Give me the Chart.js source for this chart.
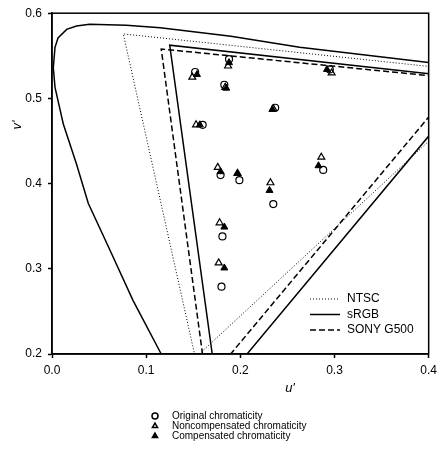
<!DOCTYPE html>
<html>
<head>
<meta charset="utf-8">
<script src="https://cdn.jsdelivr.net/npm/chart.js@4"></script>
<style>
  html, body { margin: 0; padding: 0; background: #fff; }
</style>
</head>
<body>
<canvas id="chromaChart" width="442" height="455"></canvas>
<script>
// spectral locus (u', v')
const locusU = [0.126, 0.116, 0.086, 0.0615, 0.0385, 0.026, 0.012, 0.0032, 0.0014, 0.0032, 0.0064, 0.0156, 0.026, 0.040, 0.079, 0.115, 0.19, 0.263, 0.40, 0.50];
const locusV = [0.180, 0.200, 0.263, 0.322, 0.377, 0.423, 0.470, 0.513, 0.536, 0.560, 0.571, 0.581, 0.585, 0.587, 0.586, 0.583, 0.573, 0.560, 0.542, 0.528];

// gamut triangles R, G, B, R
const ntscU = [0.4769, 0.0757, 0.1522, 0.4769];
const ntscV = [0.5285, 0.5757, 0.1957, 0.5285];
const srgbU = [0.4507, 0.1250, 0.1754, 0.4507];
const srgbV = [0.5229, 0.5625, 0.1579, 0.5229];
const sonyU = [0.434, 0.116, 0.164, 0.434];
const sonyV = [0.523, 0.558, 0.166, 0.523];

// measured chromaticities
const origU = [0.188, 0.152, 0.183, 0.237, 0.160, 0.295, 0.179, 0.199, 0.288, 0.235, 0.181, 0.180];
const origV = [0.546, 0.531, 0.516, 0.489, 0.469, 0.534, 0.410, 0.404, 0.416, 0.376, 0.338, 0.279];
const noncompU = [0.187, 0.149, 0.184, 0.235, 0.153, 0.297, 0.176, 0.197, 0.286, 0.232, 0.178, 0.177];
const noncompV = [0.538, 0.525, 0.513, 0.488, 0.469, 0.530, 0.419, 0.412, 0.431, 0.401, 0.354, 0.307];
const compU = [0.188, 0.154, 0.185, 0.234, 0.157, 0.292, 0.179, 0.197, 0.283, 0.231, 0.183, 0.183];
const compV = [0.542, 0.528, 0.512, 0.487, 0.469, 0.534, 0.414, 0.412, 0.421, 0.392, 0.349, 0.301];

const xTicks = [0.0, 0.1, 0.2, 0.3, 0.4];
const yTicks = [0.2, 0.3, 0.4, 0.5, 0.6];

const FONT = '"Liberation Sans", Arial, sans-serif';

function pts(us, vs) {
  return us.map((u, i) => ({ x: u, y: vs[i] }));
}

function lineSet(label, us, vs, dash, width, inLegend) {
  return {
    label: label, data: pts(us, vs), showLine: true, fill: false,
    borderColor: "#000", borderWidth: width, borderDash: dash,
    pointRadius: 0, pointHoverRadius: 0, order: 5, inLegend: inLegend
  };
}

const markerSets = [
  { label: "Original chromaticity", data: pts(origU, origV), pointStyle: "circle",
    pointRadius: 3.5, borderColor: "#000", backgroundColor: "rgba(255,255,255,0)", borderWidth: 1.2, order: 2 },
  { label: "Noncompensated chromaticity", data: pts(noncompU, noncompV), pointStyle: "triangle",
    pointRadius: 4, borderColor: "#000", backgroundColor: "rgba(255,255,255,0)", borderWidth: 1.2, order: 1 },
  { label: "Compensated chromaticity", data: pts(compU, compV), pointStyle: "triangle",
    pointRadius: 4, borderColor: "#000", backgroundColor: "#000", borderWidth: 1, order: 0 }
];

const lineSets = [
  lineSet("locus", locusU, locusV, [], 1.5, false),
  lineSet("NTSC", ntscU, ntscV, [1, 2], 1, true),
  lineSet("sRGB", srgbU, srgbV, [], 1.5, true),
  lineSet("SONY G500", sonyU, sonyV, [6, 3], 1.5, true)
];

const overlay = {
  id: "overlay",
  afterDraw(chart) {
    const ctx = chart.ctx, a = chart.chartArea;
    ctx.save();
    ctx.strokeStyle = "#000";
    ctx.lineWidth = 1.5;
    ctx.strokeRect(a.left, a.top, a.right - a.left, a.bottom - a.top);

    // axis titles
    ctx.fillStyle = "#000";
    ctx.font = "italic 13px " + FONT;
    ctx.textAlign = "center";
    ctx.textBaseline = "middle";
    ctx.fillText("u'", 290, 388);
    ctx.save();
    ctx.translate(17, 125);
    ctx.rotate(-Math.PI / 2);
    ctx.fillText("v'", 0, 0);
    ctx.restore();

    // legend for gamut lines, inside the plot
    ctx.textAlign = "left";
    ctx.font = "12px " + FONT;
    let y = 299;
    lineSets.filter(d => d.inLegend).forEach(d => {
      ctx.beginPath();
      ctx.setLineDash(d.borderDash);
      ctx.lineWidth = d.borderWidth;
      ctx.moveTo(310, y);
      ctx.lineTo(340, y);
      ctx.stroke();
      ctx.setLineDash([]);
      ctx.fillText(d.label, 347, y);
      y += 15.5;
    });

    // legend for markers, under the plot
    ctx.font = "10px " + FONT;
    y = 416;
    markerSets.forEach(d => {
      ctx.fillStyle = d.backgroundColor;
      ctx.strokeStyle = d.borderColor;
      Chart.helpers.drawPoint(ctx, { pointStyle: d.pointStyle, radius: 3, borderWidth: d.borderWidth, rotation: 0 }, 155, y);
      ctx.fillStyle = "#000";
      ctx.fillText(d.label, 172, y);
      y += 10;
    });
    ctx.restore();
  }
};

function tickFmt(v) { return Number(v).toFixed(1); }

new Chart(document.getElementById("chromaChart"), {
  type: "scatter",
  data: { datasets: markerSets.concat(lineSets) },
  options: {
    responsive: false,
    animation: false,
    layout: { padding: { left: 0, right: 12, top: 12, bottom: 61 } },
    plugins: { legend: { display: false }, tooltip: { enabled: false } },
    scales: {
      x: {
        type: "linear", min: 0, max: 0.4,
        afterFit: s => { s.height = 40; },
        afterBuildTicks: s => { s.ticks = xTicks.map(v => ({ value: v })); },
        grid: { drawOnChartArea: false, tickLength: 4, tickColor: "#000", tickWidth: 1.5 },
        border: { display: true, color: "#000", width: 1.5 },
        ticks: { color: "#000", font: { family: FONT, size: 12 }, padding: 5, maxRotation: 0, callback: tickFmt }
      },
      y: {
        type: "linear", min: 0.2, max: 0.6,
        afterFit: s => { s.width = 52; },
        afterBuildTicks: s => { s.ticks = yTicks.map(v => ({ value: v })); },
        grid: { drawOnChartArea: false, tickLength: 4, tickColor: "#000", tickWidth: 1.5 },
        border: { display: true, color: "#000", width: 1.5 },
        ticks: { color: "#000", font: { family: FONT, size: 12 }, padding: 6, callback: tickFmt }
      }
    }
  },
  plugins: [overlay]
});
</script>
</body>
</html>
